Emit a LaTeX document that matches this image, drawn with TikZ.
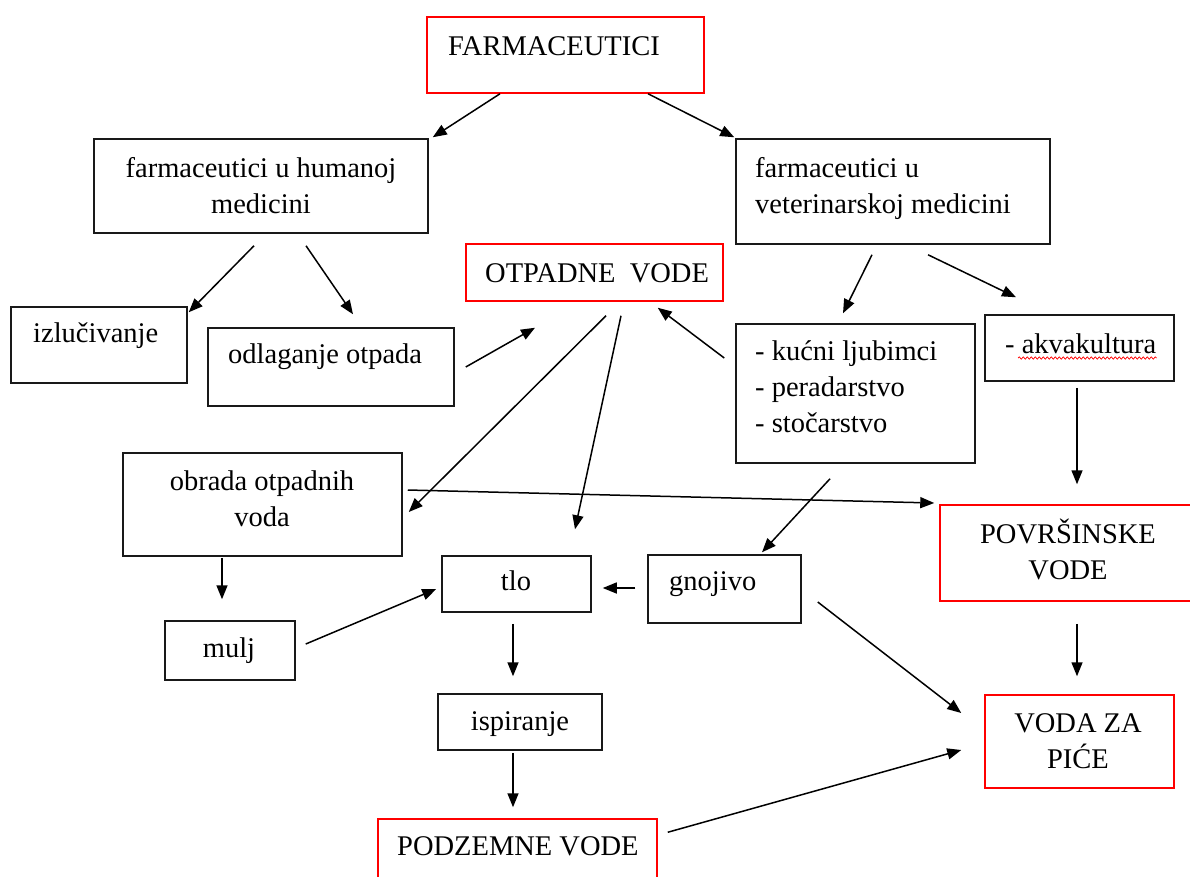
\documentclass[tikz,border=0pt]{standalone}
\usepackage{fontspec}
\setmainfont{Liberation Serif}
\usetikzlibrary{arrows.meta,decorations.pathmorphing}
\begin{document}
\begin{tikzpicture}[x=1pt,y=-1pt,font=\fontsize{28.5}{36}\selectfont,
  box/.style={draw=black!90,line width=1.5pt,inner sep=0pt},
  rbox/.style={draw=red,line width=1.5pt,inner sep=0pt},
  txt/.style={inner sep=0pt},
  arr/.style={-{Triangle[length=14pt,width=11pt]},line width=1.5pt}]
  \clip (0,0) rectangle (1190,876);
  % boxes
  \node[rbox,minimum width=277pt,minimum height=76pt] (farm) at (565.5,55) {};
  \node[box,minimum width=334pt,minimum height=94pt] (hum) at (261,186) {};
  \node[box,minimum width=314pt,minimum height=105pt] (vet) at (893,191.5) {};
  \node[rbox,minimum width=257pt,minimum height=57pt] (otp) at (594.5,272.5) {};
  \node[box,minimum width=176pt,minimum height=76pt] (izl) at (99,345) {};
  \node[box,minimum width=246pt,minimum height=78pt] (odl) at (331,367) {};
  \node[box,minimum width=239pt,minimum height=139pt] (kuc) at (855.5,393.5) {};
  \node[box,minimum width=189pt,minimum height=66pt] (akv) at (1079.5,348) {};
  \node[box,minimum width=279pt,minimum height=103pt] (obr) at (262.5,504.5) {};
  \node[rbox,minimum width=256pt,minimum height=96pt] (pov) at (1068,553) {};
  \node[box,minimum width=149pt,minimum height=56pt] (tlo) at (516.5,584) {};
  \node[box,minimum width=153pt,minimum height=68pt] (gno) at (724.5,589) {};
  \node[box,minimum width=130pt,minimum height=59pt] (mul) at (230,650.5) {};
  \node[box,minimum width=164pt,minimum height=56pt] (isp) at (520,722) {};
  \node[rbox,minimum width=189pt,minimum height=93pt] (vod) at (1079.5,741.5) {};
  \node[rbox,minimum width=279pt,minimum height=70pt] (pod) at (517.5,854) {};
  % texts
  \node[txt,anchor=base west] (farmt) at (448,55) {FARMACEUTICI};
  \node[txt,anchor=north,align=center] (humt) at (261,157.5) {farmaceutici u humanoj\\medicini};
  \node[txt,anchor=north west,align=left] (vett) at (755,157.5) {farmaceutici u\\veterinarskoj medicini};
  \node[txt,anchor=base west] (otpt) at (485,282) {OTPADNE\ \ VODE};
  \node[txt,anchor=base west] (izlt) at (33,342) {izlučivanje};
  \node[txt,anchor=base west] (odlt) at (228,363) {odlaganje otpada};
  \node[txt,anchor=north west,align=left] (kuct) at (755,340.5) {- kućni ljubimci\\- peradarstvo\\- stočarstvo};
  \node[txt,anchor=base west] (akvt) at (1005,353) {- akvakultura};
  \node[txt,anchor=north,align=center] (obrt) at (262,470.5) {obrada otpadnih\\voda};
  \node[txt,anchor=north,align=center] (povt) at (1068,519) {POVRŠINSKE\\VODE};
  \node[txt,anchor=base] (tlot) at (516,590) {tlo};
  \node[txt,anchor=base west] (gnot) at (669,590) {gnojivo};
  \node[txt,anchor=base] (mult) at (229,657) {mulj};
  \node[txt,anchor=base] (ispt) at (520,730) {ispiranje};
  \node[txt,anchor=north,align=center] (vodt) at (1078,713) {VODA ZA\\PIĆE};
  \node[txt,anchor=base west] (podt) at (397,855) {PODZEMNE VODE};
  \draw[red,line width=0.7pt,decorate,decoration={snake,amplitude=1.2pt,segment length=4pt}]
    ([xshift=13pt,yshift=-5pt]akvt.base west) -- ([yshift=-5pt]akvt.base east);
  % arrows
  \draw[arr] ([xshift=-65.5pt]farm.south) -- ([xshift=4pt,yshift=1pt]hum.north east);
  \draw[arr] ([xshift=82.5pt]farm.south) -- ([xshift=-1pt,yshift=1pt]vet.north west);
  \draw[arr] ([xshift=-7pt,yshift=-12pt]hum.south) -- ([xshift=1pt,yshift=-6pt]izl.north east);
  \draw[arr] ([xshift=45pt,yshift=-12pt]hum.south) -- ([xshift=22pt,yshift=13pt]odl.north);
  \draw[arr] ([xshift=-21pt,yshift=-10pt]vet.south) -- ([xshift=-12.5pt,yshift=10pt]kuc.north);
  \draw[arr] ([xshift=35pt,yshift=-10pt]vet.south) -- ([xshift=-63.5pt,yshift=17pt]akv.north);
  \draw[arr] ([xshift=11pt]odl.east) -- ([xshift=-59.5pt,yshift=-26pt]otp.south);
  \draw[arr] ([xshift=-11pt,yshift=35.5pt]kuc.west) -- ([xshift=-66pt,yshift=-6pt]otp.south east);
  \draw[arr] ([xshift=11.5pt,yshift=-14pt]otp.south) -- ([xshift=6pt,yshift=-7.5pt]obr.east);
  \draw[arr] ([xshift=26.5pt,yshift=-14pt]otp.south) -- ([xshift=58.5pt,yshift=26pt]tlo.north);
  \draw[arr] ([xshift=-2.5pt,yshift=-6pt]akv.south) -- ([xshift=9pt,yshift=20pt]pov.north);
  \draw[arr] ([xshift=5pt,yshift=14.5pt]obr.east) -- ([xshift=-5pt,yshift=50pt]pov.west);
  \draw[arr] ([xshift=-25.5pt,yshift=-15pt]kuc.south) -- ([xshift=37.5pt,yshift=2pt]gno.north);
  \draw[arr] ([xshift=-12pt,yshift=1pt]gno.west) -- ([xshift=11pt,yshift=-4pt]tlo.east);
  \draw[arr] ([xshift=-40.5pt,yshift=-1pt]obr.south) -- ([xshift=-8pt,yshift=21pt]mul.north);
  \draw[arr] ([xshift=10pt,yshift=6.5pt]mul.east) -- ([xshift=-5pt,yshift=-5pt]tlo.west);
  \draw[arr] ([xshift=-3.5pt,yshift=-11pt]tlo.south) -- ([xshift=-7pt,yshift=17pt]isp.north);
  \draw[arr] ([xshift=-7pt,yshift=-2pt]isp.south) -- ([xshift=-4.5pt,yshift=11pt]pod.north);
  \draw[arr] ([xshift=9pt,yshift=-22pt]pov.south) -- ([xshift=-2.5pt,yshift=18pt]vod.north);
  \draw[arr] ([xshift=16pt,yshift=-13pt]gno.east) -- ([xshift=-23pt,yshift=28.5pt]vod.west);
  \draw[arr] ([xshift=10pt,yshift=-14pt]pod.north east) -- ([xshift=-23pt,yshift=-8.5pt]vod.west);
\end{tikzpicture}
\end{document}
